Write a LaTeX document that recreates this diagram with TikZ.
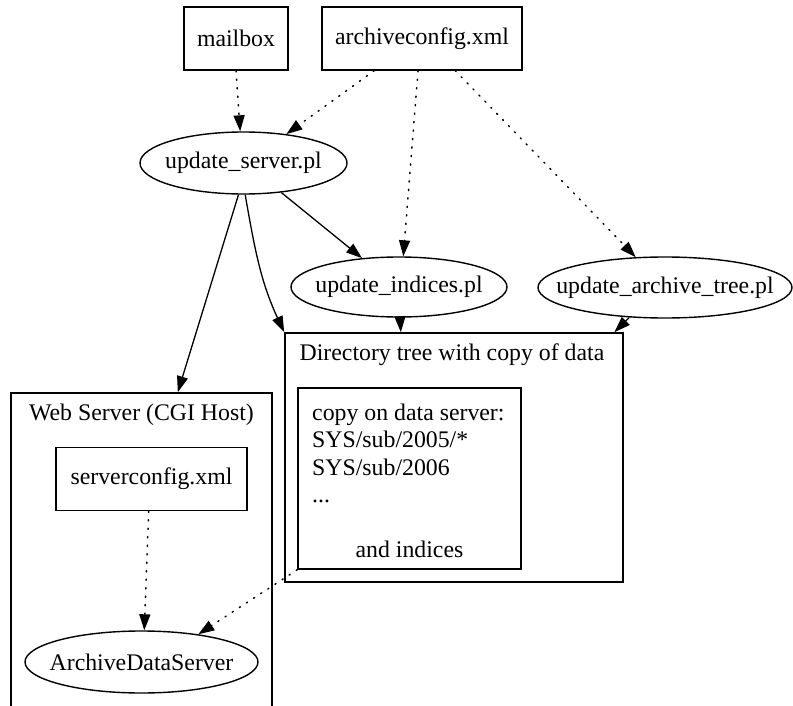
\documentclass[tikz,border=0pt]{standalone}
\usepackage{fontspec}
\setmainfont{Liberation Serif}
\usetikzlibrary{shapes.geometric,arrows.meta}

\begin{document}
\begin{tikzpicture}[x=1pt,y=-1pt,
    every node/.style={inner sep=0pt},
    filebox/.style={draw,line width=1.4pt,rectangle,minimum height=63pt},
    script/.style={draw,line width=1.4pt,ellipse,inner xsep=-25pt,minimum height=62pt},
    cluster/.style={draw,line width=1.6pt,rectangle},
    flow/.style={line width=1.3pt,-{Triangle[length=16pt,width=11pt]}},
    conf/.style={flow,line width=1.5pt,line cap=round,dash pattern=on 1.2pt off 7.3pt}]
                \clip (0,0) rectangle (793,706);
                {\fontsize{23.8}{27.5}\selectfont

                % Marking config files on top
                \node [filebox,minimum width=104pt] (mailbox) at (236,38.5) {mailbox};
                \node [filebox,minimum width=200pt] (archcfg) at (422,38.5) {archiveconfig.xml};

                % Marking scripts
                \node [script,minimum width=207pt] (usrv) at (243.5,163) {update\_server.pl};
                \node [script,minimum width=216pt,minimum height=60pt] (uidx) at (399,287) {update\_indices.pl};
                \node [script,minimum width=254pt,minimum height=61pt] (uarch) at (665,287.5) {update\_archive\_tree.pl};

                % Cluster directory tree
                \node [cluster,minimum width=338pt,minimum height=249pt] (dirtree) at (454,457.5) {};
                \node (dirlabel) at (452,355) {Directory tree with copy of data};
                \node [filebox,minimum width=223pt,minimum height=181pt] (copybox) at (409.5,478.5) {};
                \node [align=left,anchor=west] (copytext) at (312,453.5) {copy on data server:\\SYS/sub/2005/*\\SYS/sub/2006\\...};
                \node (andidx) at (409.5,549) {and indices};

                % Cluster web server
                \node [cluster,minimum width=261pt,minimum height=340pt] (websrv) at (141.5,563) {};
                \node (weblabel) at (141.5,415) {Web Server (CGI Host)};
                \node [filebox,minimum width=191pt] (srvcfg) at (151.5,479) {serverconfig.xml};
                \node [script,minimum width=233pt] (ads) at (141.5,662) {ArchiveDataServer};

                % Drawing config edges
                \draw [conf] (mailbox.south) -- (usrv.96);%
                \draw [conf] (archcfg.-146) -- (usrv.34);%
                \draw [conf] (archcfg.-97) -- (uidx.82);%
                \draw [conf] (archcfg.-44.5) -- (uarch.134);%

                % Drawing script edges
                \draw [flow] (usrv.-38.5) -- (uidx.142.7);%
                \draw [flow] (usrv.-87) to [out=-80,in=115] (dirtree.north west);%
                \draw [flow] (usrv.-99) -- (websrv.78.2);%
                \draw [flow] (uidx.-88) -- (dirtree.113);%
                \draw [flow] (uarch.-140) -- (dirtree.38.6);%

                % Drawing edges to ArchiveDataServer
                \draw [conf] (srvcfg.-95) -- (ads.85);%
                \draw [conf] (copybox.south west) -- (ads.26);%
                }
\end{tikzpicture}
\end{document}
